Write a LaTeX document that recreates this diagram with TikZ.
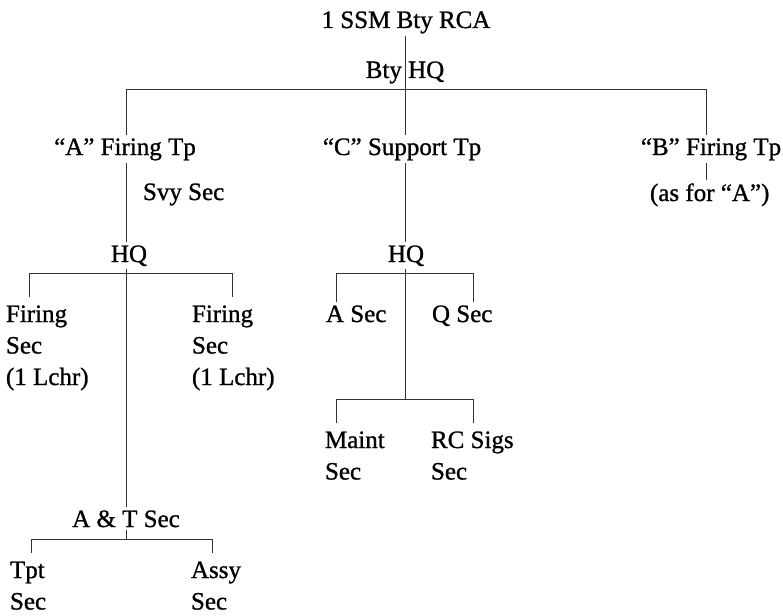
\documentclass[tikz,border=0pt]{standalone}
\usepackage{fontspec}
\setmainfont{Liberation Serif}[FakeBold=1.0]
\begin{document}
\begin{tikzpicture}[x=1pt,y=-1pt,
  lbl/.style={inner sep=0pt, outer sep=3pt, font=\fontsize{25}{31.5}\selectfont},
  conn/.style={line width=0.9pt, draw=black!80}]
\useasboundingbox (0,0) rectangle (783,615);
\newcommand{\stk}[1]{\begin{tabular}[t]{@{}l@{}}#1\end{tabular}}
% nodes
\node[lbl, anchor=base] (top) at (406,28) {1 SSM Bty RCA};
\node[lbl, anchor=base] (btyhq) at (405,78) {Bty HQ};
\node[lbl, anchor=base] (A) at (125,155) {“A” Firing Tp};
\node[lbl, anchor=base] (C) at (402,155) {“C” Support Tp};
\node[lbl, anchor=base] (B) at (711,155) {“B” Firing Tp};
\node[lbl, anchor=base west] (svy) at (140,200) {Svy Sec};
\node[lbl, anchor=base west] (asfor) at (647,201) {(as for “A”)};
\node[lbl, anchor=base] (HQ1) at (129,262) {HQ};
\node[lbl, anchor=base] (HQ2) at (406,262) {HQ};
\node[lbl, anchor=base west] (F1) at (3,322) {\stk{Firing\\Sec\\(1 Lchr)}};
\node[lbl, anchor=base west] (F2) at (189,322) {\stk{Firing\\Sec\\(1 Lchr)}};
\node[lbl, anchor=base west] (ASec) at (323,322) {A Sec};
\node[lbl, anchor=base west] (QSec) at (429,322) {Q Sec};
\node[lbl, anchor=base west] (Maint) at (322,448) {\stk{Maint\\Sec}};
\node[lbl, anchor=base west] (RC) at (428,448) {\stk{RC Sigs\\Sec}};
\node[lbl, anchor=base] (AT) at (126,527) {A \& T Sec};
\node[lbl, anchor=base west] (Tpt) at (7,578) {\stk{Tpt\\Sec}};
\node[lbl, anchor=base west] (Assy) at (188,578) {\stk{Assy\\Sec}};
% junctions
\coordinate (j0) at (405,89);
\coordinate (jA) at (126,89);
\coordinate (jB) at (706,89);
\coordinate (h1) at (126,273);
\coordinate (h1L) at (29,273);
\coordinate (h1R) at (232,273);
\coordinate (h2) at (405,273);
\coordinate (h2L) at (336,273);
\coordinate (h2R) at (473,273);
\coordinate (m) at (405,399);
\coordinate (mL) at (336,399);
\coordinate (mR) at (473,399);
\coordinate (t) at (126,539);
\coordinate (tL) at (31,539);
\coordinate (tR) at (212,539);
% connectors
\draw[conn] (top.south -| j0) -- (C.north -| j0);
\draw[conn] (jA |- A.north) -- (jA) -- (jB) -- (jB |- B.north);
\draw[conn] (A.south -| jA) -- (HQ1.north -| jA);
\draw[conn] (C.south -| j0) -- (HQ2.north -| j0);
\draw[conn] (B.south -| jB) -- (asfor.north -| jB);
\draw[conn] (HQ1.south -| h1) -- (AT.north -| h1);
\draw[conn] (h1L |- F1.north) -- (h1L) -- (h1R) -- (h1R |- F2.north);
\draw[conn] (HQ2.south -| h2) -- (m);
\draw[conn] (h2L |- ASec.north) -- (h2L) -- (h2R) -- (h2R |- QSec.north);
\draw[conn] (mL |- Maint.north) -- (mL) -- (mR) -- (mR |- RC.north);
\draw[conn] (AT.south -| t) -- (t);
\draw[conn] (tL |- Tpt.north) -- (tL) -- (tR) -- (tR |- Assy.north);
\end{tikzpicture}
\end{document}
